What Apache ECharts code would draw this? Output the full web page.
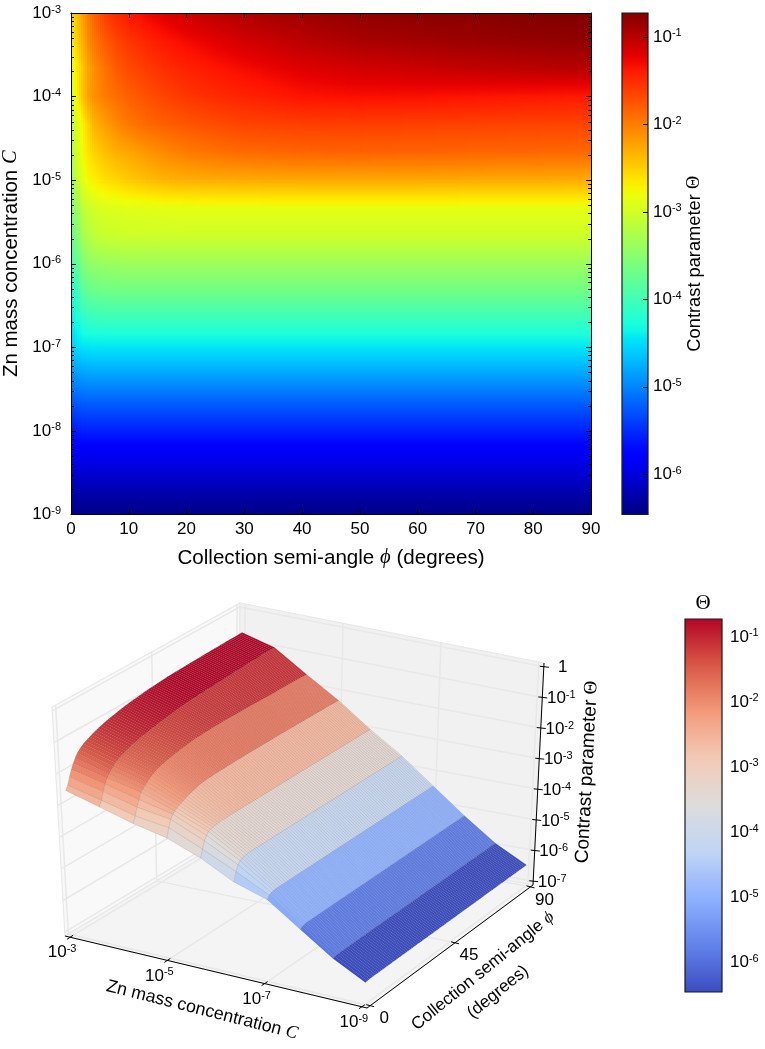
<!DOCTYPE html>
<html>
<head>
<meta charset="utf-8">
<title>Contrast parameter</title>
<script src="https://cdn.jsdelivr.net/npm/echarts@6/dist/echarts.min.js"></script>
<style>
  html, body { margin: 0; padding: 0; background: #fff; }
  #chart { width: 765px; height: 1049px; }
</style>
</head>
<body>
<div id="chart"></div>
<script>
// collection semi-angle (degrees), one column per entry in the rows below
const phiValues = [0, 1, 2, 3, 4, 6, 8, 10, 13, 16, 20, 25, 30, 40, 50, 60, 70, 80, 90];

// exponent of the Zn mass concentration, one per row
const concExponents = [-3, -3.333, -3.667, -4, -4.333, -4.667, -5, -5.333, -5.667, -6, -6.333, -7, -7.667, -8.333, -9];

// the rows where the 3D surface has its colour band edges
const surfaceRows = [0, 2, 4, 6, 8, 10, 11, 12, 13, 14];

// log10 of the contrast parameter
const rowC3   = [-2.55, -2.42, -2.20, -2.00, -1.84, -1.60, -1.47, -1.38, -1.28, -1.20, -1.11, -1.03, -0.96, -0.87, -0.81, -0.78, -0.76, -0.74, -0.73];
const rowC333 = [-2.68, -2.52, -2.30, -2.08, -1.95, -1.78, -1.65, -1.56, -1.46, -1.38, -1.30, -1.22, -1.14, -1.02, -0.94, -0.90, -0.86, -0.83, -0.81];
const rowC367 = [-2.85, -2.68, -2.45, -2.25, -2.10, -1.93, -1.78, -1.69, -1.60, -1.52, -1.44, -1.37, -1.31, -1.20, -1.14, -1.10, -1.06, -1.03, -1.00];
const rowC4   = [-3.00, -2.72, -2.42, -2.22, -2.12, -1.98, -1.90, -1.82, -1.73, -1.65, -1.57, -1.50, -1.45, -1.36, -1.33, -1.34, -1.36, -1.38, -1.40];
const rowC433 = [-3.15, -2.95, -2.72, -2.52, -2.33, -2.20, -2.07, -1.97, -1.88, -1.82, -1.76, -1.70, -1.65, -1.62, -1.62, -1.63, -1.64, -1.65, -1.66];
const rowC467 = [-3.25, -3.00, -2.76, -2.62, -2.52, -2.40, -2.30, -2.25, -2.16, -2.08, -1.99, -1.93, -1.89, -1.85, -1.84, -1.85, -1.86, -1.87, -1.88];
const rowC5   = [-3.38, -3.10, -2.88, -2.76, -2.70, -2.60, -2.54, -2.47, -2.40, -2.34, -2.31, -2.29, -2.28, -2.27, -2.27, -2.27, -2.28, -2.28, -2.29];
const rowC533 = [-3.60, -3.38, -3.15, -3.03, -2.98, -2.93, -2.91, -2.89, -2.88, -2.87, -2.86, -2.86, -2.86, -2.86, -2.86, -2.86, -2.86, -2.86, -2.86];
const rowC567 = [-3.78, -3.55, -3.33, -3.20, -3.12, -3.06, -3.04, -3.03, -3.03, -3.02, -3.02, -3.02, -3.02, -3.02, -3.02, -3.02, -3.02, -3.02, -3.02];
const rowC6   = [-4.05, -3.78, -3.58, -3.48, -3.43, -3.40, -3.38, -3.37, -3.37, -3.37, -3.37, -3.37, -3.37, -3.37, -3.37, -3.37, -3.37, -3.37, -3.37];
const rowC633 = [-4.30, -4.02, -3.85, -3.76, -3.72, -3.69, -3.68, -3.68, -3.68, -3.68, -3.68, -3.68, -3.68, -3.68, -3.68, -3.68, -3.68, -3.68, -3.68];
const rowC7   = [-4.62, -4.52, -4.48, -4.46, -4.45, -4.45, -4.45, -4.45, -4.45, -4.45, -4.45, -4.45, -4.45, -4.45, -4.45, -4.45, -4.45, -4.45, -4.45];
const rowC767 = [-5.30, -5.25, -5.23, -5.22, -5.22, -5.22, -5.22, -5.22, -5.22, -5.22, -5.22, -5.22, -5.22, -5.22, -5.22, -5.22, -5.22, -5.22, -5.22];
const rowC833 = [-5.96, -5.94, -5.92, -5.92, -5.92, -5.92, -5.92, -5.92, -5.92, -5.92, -5.92, -5.92, -5.92, -5.92, -5.92, -5.92, -5.92, -5.92, -5.92];
const rowC9   = [-6.46, -6.45, -6.44, -6.44, -6.44, -6.44, -6.44, -6.44, -6.44, -6.44, -6.44, -6.44, -6.44, -6.44, -6.44, -6.44, -6.44, -6.44, -6.44];
const thetaRows = [rowC3, rowC333, rowC367, rowC4, rowC433, rowC467, rowC5, rowC533, rowC567, rowC6, rowC633, rowC7, rowC767, rowC833, rowC9];

// tick values
const concTicks3d = [-3, -5, -7, -9];
const phiTicks3d = [0, 45, 90];
const zTicks3d = [0, -1, -2, -3, -4, -5, -6, -7];

// colour range of both colour bars (log10)
const thetaMin = -6.46;
const thetaMax = -0.726;
// the surface colours its facets by their mean, so its range is narrower
const facetMin = -6.15;
const facetMax = -0.98;

// matplotlib jet and coolwarm
const jetR = [[0, 0], [0.35, 0], [0.66, 1], [0.89, 1], [1, 0.5]];
const jetG = [[0, 0], [0.125, 0], [0.375, 1], [0.64, 1], [0.91, 0], [1, 0]];
const jetB = [[0, 0.5], [0.11, 1], [0.34, 1], [0.65, 0], [1, 0]];
const coolwarm = [[59, 76, 192], [98, 130, 234], [141, 176, 254], [192, 212, 245], [221, 220, 220], [242, 203, 183], [244, 154, 123], [217, 88, 71], [180, 4, 38]];

const FONT = '"Liberation Sans", Arial, sans-serif';
const SERIF = '"Liberation Serif", "DejaVu Serif", serif';

function knot(list, t) {
    for (let i = 1; i < list.length; i++) {
        if (t <= list[i][0]) {
            const s = (t - list[i - 1][0]) / (list[i][0] - list[i - 1][0]);
            return list[i - 1][1] + (list[i][1] - list[i - 1][1]) * s;
        }
    }
    return list[list.length - 1][1];
}

function normTheta(v, lo, hi) {
    return Math.min(1, Math.max(0, (v - lo) / (hi - lo)));
}

function jetColor(v) {
    const t = normTheta(v, thetaMin, thetaMax);
    return `rgb(${Math.round(knot(jetR, t) * 255)},${Math.round(knot(jetG, t) * 255)},${Math.round(knot(jetB, t) * 255)})`;
}

function coolAt(n) {
    const t = n * (coolwarm.length - 1);
    const i = Math.min(coolwarm.length - 2, Math.floor(t));
    const s = t - i;
    const c = [0, 1, 2].map(k => Math.round(coolwarm[i][k] + (coolwarm[i + 1][k] - coolwarm[i][k]) * s));
    return `rgb(${c[0]},${c[1]},${c[2]})`;
}

function coolColor(v) {
    return coolAt(normTheta(v, thetaMin, thetaMax));
}

const tickRich = {
    b: { fontFamily: FONT, fontSize: 17, color: '#000' },
    s: { fontFamily: FONT, fontSize: 11, color: '#000', padding: [0, 0, 7, 0] }
};

function powerLabel(exp) {
    return exp === 0 ? '{b|1}' : `{b|10}{s|${exp}}`;
}

function logLabel(value) {
    const e = Math.log10(value);
    if (Math.abs(e - Math.round(e)) > 1e-6) {
        return '';
    }
    return powerLabel(Math.round(e));
}

const titleRich = size => ({
    t: { fontFamily: FONT, fontSize: size, color: '#000' },
    i: { fontFamily: SERIF, fontStyle: 'italic', fontSize: size, color: '#000' },
    g: { fontFamily: SERIF, fontSize: size, color: '#000' }
});

// heat map cells: each cell shades between the values at its four corners
const heatCells = [];
for (let i = 0; i < concExponents.length - 1; i++) {
    for (let j = 0; j < phiValues.length - 1; j++) {
        heatCells.push([phiValues[j], phiValues[j + 1], Math.pow(10, concExponents[i]), Math.pow(10, concExponents[i + 1]), i, j]);
    }
}

function renderHeatCell(params, api) {
    const i = api.value(4);
    const j = api.value(5);
    const a = api.coord([api.value(0), api.value(2)]);
    const b = api.coord([api.value(1), api.value(3)]);
    const children = [];
    const x0 = Math.round(a[0]);
    const x1 = Math.round(b[0]);
    for (let x = x0; x < x1; x += 2) {
        const s = Math.min(1, Math.max(0, (x + 1 - a[0]) / (b[0] - a[0])));
        const top = thetaRows[i][j] + (thetaRows[i][j + 1] - thetaRows[i][j]) * s;
        const bot = thetaRows[i + 1][j] + (thetaRows[i + 1][j + 1] - thetaRows[i + 1][j]) * s;
        const stops = [];
        for (let k = 0; k <= 4; k++) {
            stops.push({ offset: k / 4, color: jetColor(top + (bot - top) * k / 4) });
        }
        children.push({
            type: 'rect',
            shape: { x: x, y: a[1], width: 2.6, height: b[1] - a[1] + 0.6 },
            style: { fill: new echarts.graphic.LinearGradient(0, 0, 0, 1, stops) }
        });
    }
    return { type: 'group', children: children };
}

// minor ticks of the concentration axis
const minorTicks = [];
for (let e = -9; e < -3; e++) {
    for (let m = 2; m <= 9; m++) {
        minorTicks.push(m * Math.pow(10, e));
    }
}

function renderMinorTick(params, api) {
    const p = api.coord([0, api.value(0)]);
    const q = api.coord([90, api.value(0)]);
    const style = { stroke: '#000', lineWidth: 1 };
    const y = Math.round(p[1]) + 0.5;
    return {
        type: 'group',
        children: [
            { type: 'line', shape: { x1: p[0], y1: y, x2: p[0] + 3, y2: y }, style: style },
            { type: 'line', shape: { x1: q[0], y1: y, x2: q[0] - 3, y2: y }, style: style }
        ]
    };
}

// colour bars
function colorBarRenderer(colorFn) {
    return function (params, api) {
        const a = api.coord([0, Math.pow(10, thetaMax)]);
        const b = api.coord([1, Math.pow(10, thetaMin)]);
        const stops = [];
        for (let k = 0; k <= 60; k++) {
            stops.push({ offset: k / 60, color: colorFn(thetaMax + (thetaMin - thetaMax) * k / 60) });
        }
        return {
            type: 'rect',
            shape: { x: a[0], y: a[1], width: b[0] - a[0], height: b[1] - a[1] },
            style: { fill: new echarts.graphic.LinearGradient(0, 0, 0, 1, stops), stroke: '#1a1a1a', lineWidth: 1.2 }
        };
    };
}

// 3D box: pixel position of the eight corners, u along C, v along phi, w upward
const boxFloor = { a: [65, 936], b: [367, 1008], d: [533, 885], e: [238, 832] };
const boxTop = { a: [52, 707], b: [371, 768], d: [544, 663], e: [240, 603] };
const boxPad = 0.017;
const depthWarp = 1.128;

function boxPoint(u, v, w) {
    const vv = v * depthWarp / (1 - v + v * depthWarp);
    const out = [0, 1].map(k => {
        const f = boxFloor.a[k] * (1 - u) * (1 - vv) + boxFloor.b[k] * u * (1 - vv) + boxFloor.d[k] * u * vv + boxFloor.e[k] * (1 - u) * vv;
        const g = boxTop.a[k] * (1 - u) * (1 - vv) + boxTop.b[k] * u * (1 - vv) + boxTop.d[k] * u * vv + boxTop.e[k] * (1 - u) * vv;
        return f + (g - f) * w;
    });
    return out;
}

const uOf = c => boxPad + (1 - 2 * boxPad) * (-3 - c) / 6;
const vOf = p => boxPad + (1 - 2 * boxPad) * p / 90;
const wOf = z => boxPad + (1 - 2 * boxPad) * (z + 7) / 7;

function thetaAt(row, phi) {
    for (let j = 1; j < phiValues.length; j++) {
        if (phi <= phiValues[j]) {
            const s = (phi - phiValues[j - 1]) / (phiValues[j] - phiValues[j - 1]);
            return thetaRows[row][j - 1] + (thetaRows[row][j] - thetaRows[row][j - 1]) * s;
        }
    }
    return thetaRows[row][phiValues.length - 1];
}

// surface facets, far side first so the front covers the back
const surfaceFacets = [];
for (let deg = 89; deg >= 0; deg--) {
    for (let band = 0; band < surfaceRows.length - 1; band++) {
        surfaceFacets.push([band, deg]);
    }
}

function renderFacet(params, api) {
    const band = api.value(0);
    const deg = api.value(1);
    const r0 = surfaceRows[band];
    const r1 = surfaceRows[band + 1];
    const c0 = concExponents[r0];
    const c1 = concExponents[r1];
    const z00 = thetaAt(r0, deg);
    const z01 = thetaAt(r0, deg + 1);
    const z10 = thetaAt(r1, deg);
    const z11 = thetaAt(r1, deg + 1);
    const pts = [
        boxPoint(uOf(c0), vOf(deg), wOf(z00)),
        boxPoint(uOf(c1), vOf(deg), wOf(z10)),
        boxPoint(uOf(c1), vOf(deg + 1), wOf(z11)),
        boxPoint(uOf(c0), vOf(deg + 1), wOf(z01))
    ];
    return {
        type: 'polygon',
        shape: { points: pts },
        style: {
            fill: coolAt(normTheta((z00 + z01 + z10 + z11) / 4, facetMin, facetMax)),
            stroke: 'rgba(60,60,60,0.28)',
            lineWidth: 0.4
        }
    };
}

function segment(p, q, color, width) {
    return { type: 'line', shape: { x1: p[0], y1: p[1], x2: q[0], y2: q[1] }, style: { stroke: color, lineWidth: width } };
}

function label3d(text, x, y, rich, rotation) {
    return {
        type: 'text',
        x: x,
        y: y,
        rotation: rotation || 0,
        style: { text: text, rich: rich, align: 'center', verticalAlign: 'middle', fontFamily: FONT, fontSize: 16, fill: '#000' }
    };
}

function renderBox() {
    const grid = '#e8e8e8';
    const kids = [];
    const wall = (pts, fill) => kids.push({ type: 'polygon', shape: { points: pts }, style: { fill: fill, stroke: grid, lineWidth: 1.2 } });
    wall([boxPoint(0, 0, 0), boxPoint(0, 1, 0), boxPoint(0, 1, 1), boxPoint(0, 0, 1)], '#f9f9f9');
    wall([boxPoint(0, 1, 0), boxPoint(1, 1, 0), boxPoint(1, 1, 1), boxPoint(0, 1, 1)], '#f1f1f1');
    wall([boxPoint(0, 0, 0), boxPoint(1, 0, 0), boxPoint(1, 1, 0), boxPoint(0, 1, 0)], '#f4f4f4');

    zTicks3d.forEach(z => {
        kids.push(segment(boxPoint(0, 0, wOf(z)), boxPoint(0, 1, wOf(z)), grid, 1.5));
        kids.push(segment(boxPoint(0, 1, wOf(z)), boxPoint(1, 1, wOf(z)), grid, 1.5));
    });
    concTicks3d.forEach(c => {
        kids.push(segment(boxPoint(uOf(c), 0, 0), boxPoint(uOf(c), 1, 0), grid, 1.5));
        kids.push(segment(boxPoint(uOf(c), 1, 0), boxPoint(uOf(c), 1, 1), grid, 1.5));
    });
    phiTicks3d.forEach(p => {
        kids.push(segment(boxPoint(0, vOf(p), 0), boxPoint(1, vOf(p), 0), grid, 1.5));
        kids.push(segment(boxPoint(0, vOf(p), 0), boxPoint(0, vOf(p), 1), grid, 1.5));
    });

    // axis lines
    kids.push(segment(boxPoint(0, 0, 0), boxPoint(1, 0, 0), '#000', 1));
    kids.push(segment(boxPoint(1, 0, 0), boxPoint(1, 1, 0), '#000', 1));
    kids.push(segment(boxPoint(1, 1, 0), boxPoint(1, 1, 1), '#000', 1));

    concTicks3d.forEach(c => {
        const p = boxPoint(uOf(c), 0, 0);
        kids.push(segment([p[0] - 3, p[1] + 2], [p[0] + 3, p[1] - 2], '#000', 1));
        kids.push(label3d(powerLabel(c), p[0] - 8, p[1] + 15.5, tickRich));
    });
    phiTicks3d.forEach(v => {
        const p = boxPoint(1, vOf(v), 0);
        kids.push(segment([p[0] - 4, p[1] - 1], [p[0] + 4, p[1] + 1], '#000', 1));
        kids.push(label3d('{b|' + v + '}', p[0] + 14, p[1] + 13, tickRich));
    });
    zTicks3d.forEach(z => {
        const p = boxPoint(1, 1, wOf(z));
        kids.push(segment([p[0] - 4, p[1] - 0.5], [p[0] + 5, p[1] + 0.5], '#000', 1));
        kids.push(label3d(powerLabel(z), p[0] + 19, p[1] + 1, tickRich));
    });

    kids.push(label3d('{t|Zn mass concentration }{i|C}', 202, 1010, titleRich(17.8), -14.2 * Math.PI / 180));
    kids.push(label3d('{t|Collection semi-angle }{i|\u03d5}', 483, 971, titleRich(17.2), 39 * Math.PI / 180));
    kids.push(label3d('{t|(degrees)}', 498, 992, titleRich(17.2), 39 * Math.PI / 180));
    kids.push(label3d('{t|Contrast parameter }{g|\u0398}', 587, 772, titleRich(19), 87 * Math.PI / 180));
    kids.push(label3d('{g|\u0398}', 703, 603, titleRich(21)));
    return { type: 'group', children: kids };
}

const chart = echarts.init(document.getElementById('chart'));

chart.setOption({
    animation: false,
    backgroundColor: '#fff',
    textStyle: { fontFamily: FONT },
    grid: [
        { left: 71, top: 13, width: 520, height: 501.5, outerBoundsMode: 'none' },
        { left: 622, top: 13, width: 26, height: 501.5, outerBoundsMode: 'none' },
        { left: 685, top: 619, width: 37, height: 373, outerBoundsMode: 'none' }
    ],
    xAxis: [
        {
            gridIndex: 0, type: 'value', min: 0, max: 90, interval: 10, position: 'bottom', z: 5,
            axisLine: { onZero: false, lineStyle: { color: '#000', width: 1 } },
            axisTick: { inside: true, length: 5, lineStyle: { color: '#000' } },
            axisLabel: { fontFamily: FONT, fontSize: 17, color: '#000', margin: 6 },
            splitLine: { show: false },
            name: '{t|Collection semi-angle }{i|\u03d5}{t| (degrees)}',
            nameLocation: 'middle',
            nameGap: 33,
            nameTextStyle: { rich: titleRich(20.6) }
        },
        {
            gridIndex: 0, type: 'value', min: 0, max: 90, interval: 10, position: 'top', z: 5,
            axisLine: { onZero: false, lineStyle: { color: '#000', width: 1 } },
            axisTick: { inside: true, length: 5, lineStyle: { color: '#000' } },
            axisLabel: { show: false },
            splitLine: { show: false }
        },
        { gridIndex: 1, type: 'value', min: 0, max: 1, show: false },
        { gridIndex: 2, type: 'value', min: 0, max: 1, show: false }
    ],
    yAxis: [
        {
            gridIndex: 0, type: 'log', min: 1e-9, max: 1e-3, position: 'left', z: 5, splitNumber: 6,
            axisLine: { onZero: false, lineStyle: { color: '#000', width: 1 } },
            axisTick: { inside: true, length: 5, lineStyle: { color: '#000' } },
            axisLabel: { formatter: logLabel, rich: tickRich, margin: 10 },
            splitLine: { show: false },
            minorTick: { show: false },
            name: '{t|Zn mass concentration }{i|C}',
            nameLocation: 'middle',
            nameGap: 45,
            nameTextStyle: { rich: titleRich(20.5) }
        },
        {
            gridIndex: 0, type: 'log', min: 1e-9, max: 1e-3, position: 'right', z: 5, splitNumber: 6,
            axisLine: { onZero: false, lineStyle: { color: '#000', width: 1 } },
            axisTick: { inside: true, length: 5, lineStyle: { color: '#000' } },
            axisLabel: { show: false },
            splitLine: { show: false }
        },
        {
            gridIndex: 1, type: 'log', min: Math.pow(10, thetaMin), max: Math.pow(10, thetaMax), position: 'right', z: 5, splitNumber: 6,
            axisLine: { show: false, onZero: false },
            axisTick: { inside: true, length: 5, lineStyle: { color: '#000' } },
            axisLabel: { formatter: logLabel, rich: tickRich, margin: 5, showMinLabel: false, showMaxLabel: false },
            splitLine: { show: false },
            name: '{t|Contrast parameter }{g|\u0398}',
            nameLocation: 'middle',
            nameRotate: 90,
            nameGap: 34,
            nameTextStyle: { rich: titleRich(18.3) }
        },
        {
            gridIndex: 2, type: 'log', min: Math.pow(10, thetaMin), max: Math.pow(10, thetaMax), position: 'right', z: 5, splitNumber: 6,
            axisLine: { show: false, onZero: false },
            axisTick: { show: false },
            axisLabel: { formatter: logLabel, rich: tickRich, margin: 8, showMinLabel: false, showMaxLabel: false },
            splitLine: { show: false }
        }
    ],
    series: [
        {
            type: 'custom', xAxisIndex: 0, yAxisIndex: 0, clip: true, silent: true, z: 2,
            renderItem: renderHeatCell,
            data: heatCells
        },
        {
            type: 'custom', xAxisIndex: 0, yAxisIndex: 0, silent: true, z: 6,
            renderItem: renderMinorTick,
            data: minorTicks.map(v => [v])
        },
        {
            type: 'custom', xAxisIndex: 2, yAxisIndex: 2, silent: true, z: 2,
            renderItem: colorBarRenderer(jetColor),
            data: [[0]]
        },
        {
            type: 'custom', xAxisIndex: 3, yAxisIndex: 3, silent: true, z: 2,
            renderItem: colorBarRenderer(coolColor),
            data: [[0]]
        },
        {
            type: 'custom', coordinateSystem: 'none', silent: true, z: 1,
            renderItem: renderBox,
            data: [[0]]
        },
        {
            type: 'custom', coordinateSystem: 'none', silent: true, z: 3,
            renderItem: renderFacet,
            data: surfaceFacets
        }
    ]
});

window.addEventListener('resize', () => chart.resize());
</script>
</body>
</html>
